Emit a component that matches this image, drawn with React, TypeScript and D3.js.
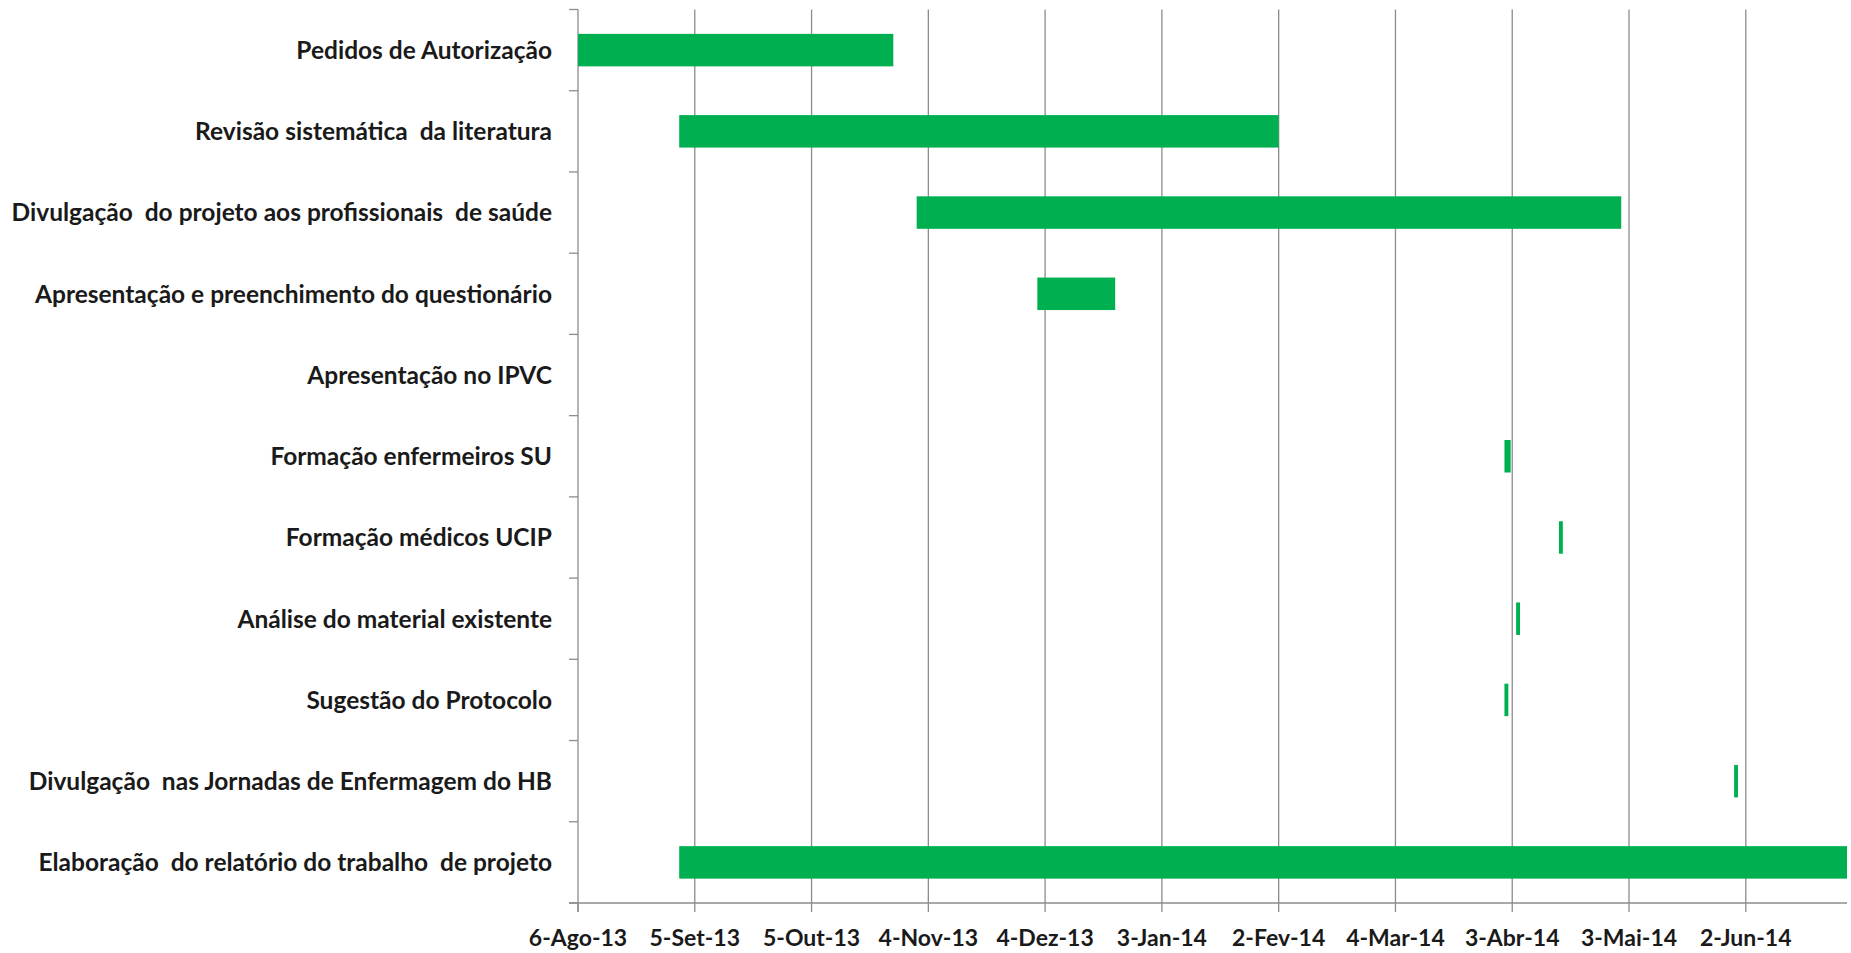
import React from "react";
import * as d3 from "d3";

const tasks: string[] = [
  "Pedidos de Autorização",
  "Revisão sistemática  da literatura",
  "Divulgação  do projeto aos profissionais  de saúde",
  "Apresentação e preenchimento do questionário",
  "Apresentação no IPVC",
  "Formação enfermeiros SU",
  "Formação médicos UCIP",
  "Análise do material existente",
  "Sugestão do Protocolo",
  "Divulgação  nas Jornadas de Enfermagem do HB",
  "Elaboração  do relatório do trabalho  de projeto",
];

// start date and end date of each task (null = no bar)
const starts: (string | null)[] = [
  "2013-08-06", "2013-09-01", "2013-11-01", "2013-12-02", null,
  "2014-04-01", "2014-04-15", "2014-04-04", "2014-04-01", "2014-05-30", "2013-09-01",
];
const ends: (string | null)[] = [
  "2013-10-26", "2014-02-02", "2014-05-01", "2013-12-22", null,
  "2014-04-02.6", "2014-04-16", "2014-04-05", "2014-04-02", "2014-05-31", "2014-06-28",
];

const tickDates: string[] = [
  "2013-08-06", "2013-09-05", "2013-10-05", "2013-11-04", "2013-12-04", "2014-01-03",
  "2014-02-02", "2014-03-04", "2014-04-03", "2014-05-03", "2014-06-02",
];
const tickLabels: string[] = [
  "6-Ago-13", "5-Set-13", "5-Out-13", "4-Nov-13", "4-Dez-13", "3-Jan-14",
  "2-Fev-14", "4-Mar-14", "3-Abr-14", "3-Mai-14", "2-Jun-14",
];
const domainDates: string[] = ["2013-08-06", "2014-06-28"];

function parse(s: string): Date {
  const m = s.match(/^(\d+)-(\d+)-(\d+)(\.\d+)?$/)!;
  const base = Date.UTC(+m[1], +m[2] - 1, +m[3]);
  const frac = m[4] ? parseFloat(m[4]) : 0;
  return new Date(base + frac * 86400000);
}

export default function App() {
  const W = 1851, H = 953;
  const left = 578, right = 1847, top = 9.5, bottom = 903;
  const x = d3.scaleUtc().domain(domainDates.map(parse)).range([left, right]);
  const y = d3.scaleBand<string>().domain(tasks).range([top, bottom]).paddingInner(0.6).paddingOuter(0.3);
  const step = y.step();
  const font = "Lato, 'Open Sans', sans-serif";
  const grid = "#8c8c8c";
  return (
    <svg width={W} height={H} style={{ position: "absolute", left: 0, top: 0, background: "#fff" }}>
      {tickDates.map((d, i) => (
        <g key={"g" + i}>
          {i > 0 && <line x1={x(parse(d))} x2={x(parse(d))} y1={top} y2={bottom} stroke={grid} strokeWidth={1.3} />}
          <line x1={x(parse(d))} x2={x(parse(d))} y1={bottom} y2={bottom + 9} stroke={grid} strokeWidth={1.3} />
          <text x={x(parse(d))} y={946} textAnchor="middle" fontFamily={font} fontWeight={700} fontSize={23} fill="#1a1a1a">{tickLabels[i]}</text>
        </g>
      ))}
      {d3.range(tasks.length + 1).map((k) => (
        <line key={"t" + k} x1={left - 9} x2={left} y1={top + k * step} y2={top + k * step} stroke={grid} strokeWidth={1.3} />
      ))}
      <line x1={left} x2={left} y1={top} y2={bottom + 9} stroke={grid} strokeWidth={1.3} />
      <line x1={left - 9} x2={right} y1={bottom} y2={bottom} stroke={grid} strokeWidth={1.3} />
      {tasks.map((t, i) => {
        const s = starts[i], e = ends[i];
        return (
          <g key={"r" + i}>
            {s && e && (
              <rect x={x(parse(s))} y={y(t)!} width={Math.max(1, x(parse(e)) - x(parse(s)))} height={y.bandwidth()} fill="#00b050" />
            )}
            <text x={552} y={y(t)! + y.bandwidth() / 2} dy="0.36em" textAnchor="end" fontFamily={font} fontWeight={700} fontSize={24.5} fill="#1a1a1a" style={{ whiteSpace: "pre" }}>{t}</text>
          </g>
        );
      })}
    </svg>
  );
}
